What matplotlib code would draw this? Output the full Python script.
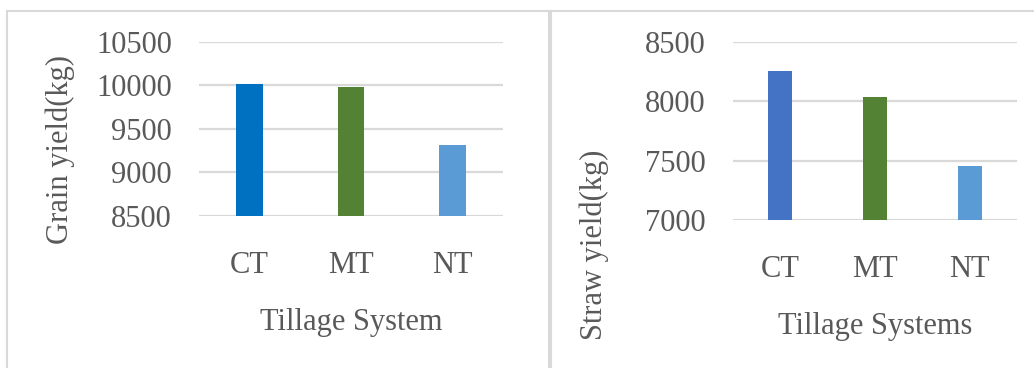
import matplotlib
matplotlib.use('Agg')
import matplotlib.pyplot as plt
from matplotlib.patches import Rectangle

plt.rcParams['font.family'] = ['Liberation Serif', 'DejaVu Serif']

W, H = 1034, 368

categories = ['CT', 'MT', 'NT']
grain_yield = [10020, 9985, 9315]
straw_yield = [8255, 8036, 7455]
grain_ticks = [8500, 9000, 9500, 10000, 10500]
straw_ticks = [7000, 7500, 8000, 8500]

grain_colors = ['#0070C0', '#548235', '#5B9BD5']
straw_colors = ['#4472C4', '#548235', '#5B9BD5']

TEXT = '#595959'
GRID = '#D9D9D9'
FS = 22


def px_box(x0, y0, x1, y1):
    # pixel box (top-left origin) -> figure fraction [left, bottom, width, height]
    return [x0 / W, 1 - y1 / H, (x1 - x0) / W, (y1 - y0) / H]


def style_axes(ax, ticks, xlabel, ylabel, ylab_pos):
    ax.set_ylim(ticks[0], ticks[-1])
    ax.set_yticks(ticks)
    ax.set_xlim(-0.5, 2.5)
    ax.set_xticks(range(len(categories)))
    ax.set_xticklabels(categories)
    for s in ax.spines.values():
        s.set_visible(False)
    ax.yaxis.grid(True, color=GRID, linewidth=1.6)
    ax.set_axisbelow(True)
    ax.tick_params(axis='y', length=0, pad=19.5, labelsize=FS, labelcolor=TEXT)
    ax.tick_params(axis='x', length=0, pad=25, labelsize=FS, labelcolor=TEXT)
    ax.set_xlabel(xlabel, fontsize=FS, color=TEXT, labelpad=20.5)
    ax.set_ylabel(ylabel, fontsize=FS, color=TEXT, va='center', ha='center')
    ax.yaxis.set_label_coords(*ylab_pos)


fig = plt.figure(figsize=(W / 100, H / 100), dpi=100)
fig.patch.set_facecolor('white')

# chart frames
fig.add_artist(Rectangle((7 / W, -0.1), (549 - 7) / W, 1.1 - 11 / H,
                         transform=fig.transFigure, facecolor='none',
                         edgecolor='#D9D9D9', linewidth=1.5))
fig.add_artist(Rectangle((551 / W, -0.1), (1040 - 551) / W, 1.1 - 11 / H,
                         transform=fig.transFigure, facecolor='none',
                         edgecolor='#D9D9D9', linewidth=1.5))

ax1 = fig.add_axes(px_box(199, 42, 503, 216))
ax1.bar(range(len(categories)), [v - grain_ticks[0] for v in grain_yield],
        bottom=grain_ticks[0], width=0.26, color=grain_colors)
style_axes(ax1, grain_ticks, 'Tillage System', 'Grain yield(kg)', (-0.455, 0.38))

ax2 = fig.add_axes(px_box(733, 42, 1017, 220))
ax2.bar(range(len(categories)), [v - straw_ticks[0] for v in straw_yield],
        bottom=straw_ticks[0], width=0.253, color=straw_colors)
style_axes(ax2, straw_ticks, 'Tillage Systems', 'Straw yield(kg)', (-0.49, -0.14))

fig.savefig('out.png', dpi=100, facecolor='white')
